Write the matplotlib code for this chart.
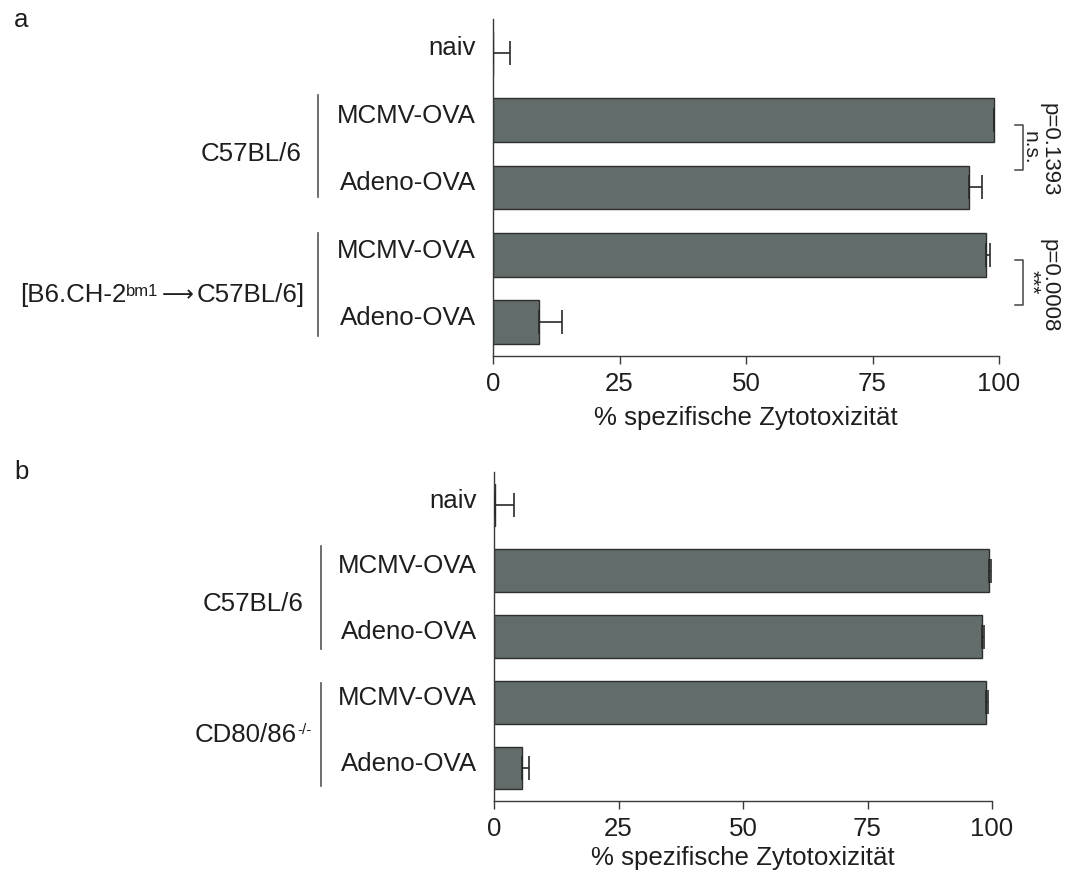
import matplotlib
matplotlib.use("Agg")
import matplotlib.pyplot as plt
from matplotlib.transforms import blended_transform_factory

plt.rcParams['font.family'] = ['Liberation Sans', 'DejaVu Sans']

# ---- data ----
categories = ["naiv", "MCMV-OVA", "Adeno-OVA", "MCMV-OVA", "Adeno-OVA"]

values_a = [0.0, 99.0, 94.1, 97.4, 9.0]
errors_a = [3.3, 0.0, 2.6, 0.8, 4.6]

values_b = [0.3, 99.3, 97.9, 98.7, 5.7]
errors_b = [3.8, 0.4, 0.5, 0.4, 1.4]

xticks = [0, 25, 50, 75, 100]
xlabel = "% spezifische Zytotoxizität"

BAR = "#626d6b"
EDGE = "#2e2e2e"
TXT = "#1e1e1e"
LINE = "#3a3a3a"
FS = 18.6

fig = plt.figure(figsize=(10.66, 8.72), dpi=100)
W, H = 1066.0, 872.0


def make_axes(left_px, right_px, top_px, bottom_px):
    return fig.add_axes([left_px / W, 1 - bottom_px / H,
                         (right_px - left_px) / W, (bottom_px - top_px) / H])


def draw_panel(ax, values, errors, labelpad):
    y = list(range(len(values)))
    ax.barh(y, values, height=0.65, color=BAR, edgecolor=EDGE, linewidth=1.0,
            zorder=2)
    ax.errorbar(values, y, xerr=[[0] * len(errors), errors], fmt='none',
                ecolor="#2a2a2a", elinewidth=1.2, capsize=8.5, capthick=1.2,
                zorder=3)
    ax.set_xlim(0, 100)
    ax.set_ylim(4.5, -0.5)
    ax.set_xticks(xticks)
    ax.set_xticklabels([str(t) for t in xticks], fontsize=FS, color=TXT)
    ax.set_yticks([])
    ax.tick_params(axis='x', length=5.8, width=1.0, color=LINE, pad=6)
    for s in ('top', 'right'):
        ax.spines[s].set_visible(False)
    for s in ('left', 'bottom'):
        ax.spines[s].set_color(LINE)
        ax.spines[s].set_linewidth(1.0)
    ax.set_xlabel(xlabel, fontsize=FS, color=TXT, labelpad=labelpad)
    for i, c in enumerate(categories):
        ax.annotate(c, xy=(0, i), xycoords=('axes fraction', 'data'),
                    xytext=(-12.2, -2.0), textcoords='offset points',
                    ha='right', va='baseline', fontsize=FS, color=TXT)


def group_line(ax, x_px, y0, y1):
    tr = blended_transform_factory(fig.transFigure, ax.transData)
    ax.plot([x_px / W, x_px / W], [y0, y1], transform=tr, color="#555555",
            lw=1.2, clip_on=False)


def group_label(ax, x_px, y, text):
    tr = blended_transform_factory(fig.transFigure, ax.transData)
    return ax.text(x_px / W, y, text, transform=tr, ha='right', va='baseline',
                   fontsize=FS, color=TXT)


# ---- panel a ----
ax_a = make_axes(493, 999, 19, 356)
draw_panel(ax_a, values_a, errors_a, labelpad=7)
group_line(ax_a, 318, 0.63, 2.14)
group_line(ax_a, 318, 2.68, 4.20)
group_label(ax_a, 302, 1.607, "C57BL/6")

# chimera label built from right to left: "[B6.CH-2" + sup "bm1" + arrow + "C57BL/6]"
t_host = group_label(ax_a, 305, 3.70, "C57BL/6]")
t_arrow = ax_a.annotate("\u27f6", xy=(0, 0.5), xycoords=t_host,
                        xytext=(-2.5, 0), textcoords='offset points',
                        ha='right', va='center', fontsize=16, color=TXT,
                        family=['DejaVu Sans'])
t_sup = ax_a.annotate("bm1", xy=(0, 1.0), xycoords=(t_arrow, t_host),
                      xytext=(-2.0, -0.5), textcoords='offset points',
                      ha='right', va='top', fontsize=12, color=TXT)
ax_a.annotate("[B6.CH-2", xy=(0, 0), xycoords=(t_sup, t_host),
              xytext=(-0.3, 0), textcoords='offset points',
              ha='right', va='bottom', fontsize=FS, color=TXT)

# significance brackets
tr_a = blended_transform_factory(ax_a.transAxes, ax_a.transData)
bx, barm = 1.048, 1.032
for (y0, y1) in [(1.07, 1.74), (3.08, 3.74)]:
    ax_a.plot([barm, bx, bx, barm], [y0, y0, y1, y1], transform=tr_a,
              color="#444444", lw=1.1, clip_on=False)
ax_a.text(1.0615, 1.41, "n.s.", transform=tr_a, rotation=-90, ha='center',
          va='center', fontsize=15, color=TXT)
ax_a.text(1.099, 1.445, "p=0.1393", transform=tr_a, rotation=-90,
          ha='center', va='center', fontsize=16, color=TXT)
ax_a.text(1.063, 3.40, "***", transform=tr_a, rotation=-90, ha='center',
          va='center', fontsize=15, color=TXT)
ax_a.text(1.099, 3.45, "p=0.0008", transform=tr_a, rotation=-90,
          ha='center', va='center', fontsize=16, color=TXT)

# ---- panel b ----
ax_b = make_axes(494, 992, 472, 801)
draw_panel(ax_b, values_b, errors_b, labelpad=3.5)
group_line(ax_b, 321, 0.63, 2.19)
group_line(ax_b, 321, 2.71, 4.27)
group_label(ax_b, 304, 1.606, "C57BL/6")
cd = group_label(ax_b, 297, 3.60, "CD80/86")
ax_b.annotate("-/-", xy=(1.0, 1.0), xycoords=cd, xytext=(0.5, 0),
              textcoords='offset points', ha='left', va='top',
              fontsize=11, color=TXT)

# panel letters
fig.text(14 / W, 1 - 20 / H, "a", fontsize=FS, color=TXT, ha='left',
         va='center')
fig.text(14 / W, 1 - 472 / H, "b", fontsize=FS, color=TXT, ha='left',
         va='center')

fig.savefig("out.png", dpi=100, facecolor='white')
